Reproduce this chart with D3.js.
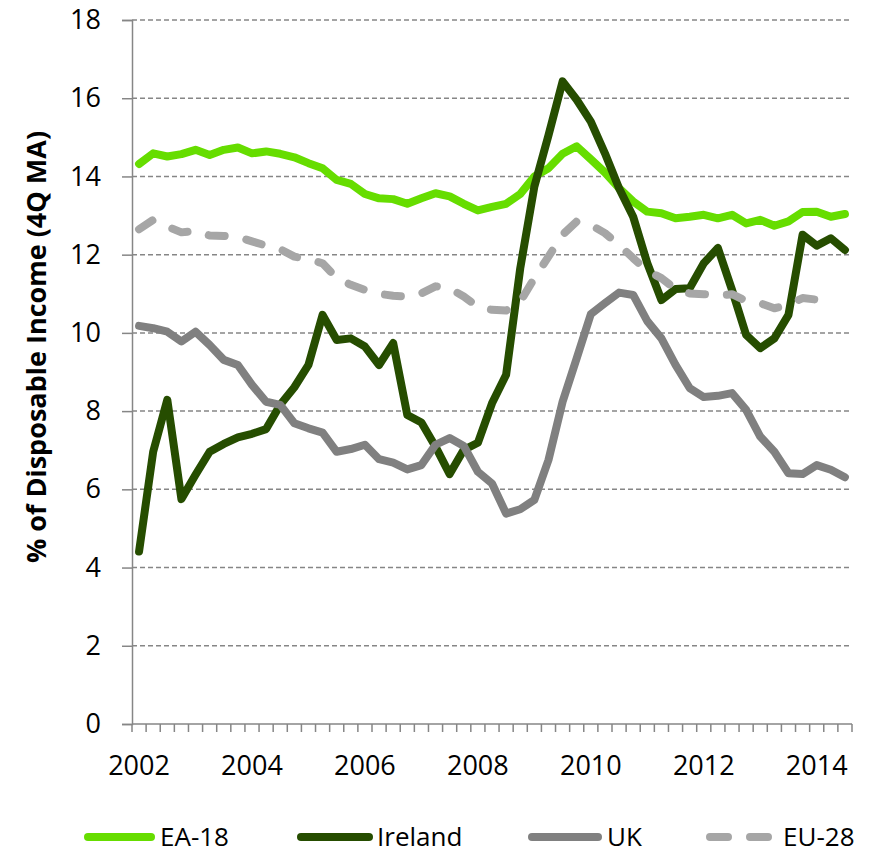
<!DOCTYPE html>
<html>
<head>
<meta charset="utf-8">
<script src="https://cdn.jsdelivr.net/npm/d3@7"></script>
<style>
  body { margin: 0; background: #fff; }
  svg { display: block; font-family: "Open Sans", sans-serif; }
</style>
</head>
<body>
<svg id="chart" width="877" height="853"></svg>
<script>
// quarterly, 2002Q1 .. 2014Q3
const years = d3.range(2002, 2015);
const quarters = [];
years.forEach(y => [1, 2, 3, 4].forEach(q => { if (y < 2014 || q <= 3) quarters.push(y + "Q" + q); }));

const yTicks = [0, 2, 4, 6, 8, 10, 12, 14, 16, 18];
const xLabels = ["2002", "2004", "2006", "2008", "2010", "2012", "2014"];

const ea18 = [14.32, 14.59, 14.51, 14.57, 14.68, 14.55, 14.68, 14.74, 14.59, 14.64,
  14.58, 14.49, 14.34, 14.21, 13.91, 13.81, 13.55, 13.44, 13.42, 13.30,
  13.44, 13.57, 13.49, 13.30, 13.13, 13.22, 13.30, 13.55, 14.00, 14.21,
  14.58, 14.77, 14.44, 14.10, 13.70, 13.36, 13.10, 13.06, 12.93, 12.97,
  13.02, 12.93, 13.02, 12.80, 12.89, 12.74, 12.85, 13.09, 13.10, 12.97, 13.04];

const ireland = [4.41, 6.96, 8.29, 5.75, 6.37, 6.96, 7.16, 7.33, 7.42, 7.54,
  8.16, 8.61, 9.18, 10.46, 9.82, 9.86, 9.65, 9.18, 9.74, 7.90,
  7.71, 7.09, 6.39, 7.01, 7.19, 8.20, 8.93, 11.65, 13.74, 15.05,
  16.43, 15.96, 15.40, 14.59, 13.70, 12.97, 11.78, 10.84, 11.12, 11.14,
  11.78, 12.17, 11.10, 9.95, 9.61, 9.86, 10.46, 12.51, 12.23, 12.42, 12.12];

const uk = [10.18, 10.12, 10.03, 9.78, 10.03, 9.69, 9.31, 9.18, 8.67, 8.24,
  8.16, 7.69, 7.56, 7.45, 6.96, 7.03, 7.14, 6.77, 6.68, 6.51,
  6.62, 7.14, 7.31, 7.11, 6.45, 6.15, 5.38, 5.49, 5.73, 6.75,
  8.24, 9.35, 10.48, 10.76, 11.03, 10.97, 10.30, 9.86, 9.18, 8.59,
  8.36, 8.39, 8.46, 8.03, 7.35, 6.96, 6.41, 6.39, 6.62, 6.50, 6.31];

const eu28 = [12.65, 12.89, 12.72, 12.57, 12.61, 12.49, 12.48, 12.45, 12.34, 12.23,
  12.14, 11.95, 11.88, 11.78, 11.40, 11.23, 11.10, 11.00, 10.95, 10.93,
  11.01, 11.19, 11.14, 10.93, 10.67, 10.59, 10.57, 10.80, 11.40, 11.95,
  12.51, 12.85, 12.76, 12.55, 12.25, 11.91, 11.59, 11.40, 11.12, 11.01,
  10.99, 10.95, 10.99, 10.82, 10.76, 10.63, 10.72, 10.89, 10.85, 10.67];

const series = [
  { name: "EA-18", values: ea18, color: "#66dd00", dash: null },
  { name: "Ireland", values: ireland, color: "#264d00", dash: null },
  { name: "UK", values: uk, color: "#808080", dash: null },
  { name: "EU-28", values: eu28, color: "#a6a6a6", dash: "16,22" }
];

const svg = d3.select("#chart");
const plotLeft = 132, plotRight = 852, plotTop = 20, plotBottom = 724;

const x = d3.scaleBand().domain(quarters).range([plotLeft, plotRight]);
const y = d3.scaleLinear().domain([0, 18]).range([plotBottom, plotTop]);
const cx = q => x(q) + x.bandwidth() / 2;

// horizontal gridlines
svg.append("g")
  .selectAll("line")
  .data(yTicks.filter(t => t > 0))
  .join("line")
  .attr("x1", plotLeft).attr("x2", plotRight)
  .attr("y1", d => y(d)).attr("y2", d => y(d))
  .attr("stroke", "#868686")
  .attr("stroke-width", 1.5)
  .attr("stroke-dasharray", "5,3");

// y axis
const yAxis = svg.append("g")
  .attr("transform", `translate(${plotLeft},0)`)
  .call(d3.axisLeft(y).tickValues(yTicks).tickSize(10).tickPadding(8));
yAxis.select(".domain").attr("stroke", "#868686").attr("stroke-width", 1.5);
yAxis.selectAll(".tick line").attr("stroke", "#868686").attr("stroke-width", 1.5);
yAxis.selectAll(".tick text")
  .attr("font-family", "Open Sans")
  .attr("font-size", 27)
  .attr("fill", "#000")
  .attr("x", -31);

// x axis: ticks between quarters, labels every second year
const xAxis = svg.append("g").attr("transform", `translate(0,${plotBottom})`);
xAxis.append("line")
  .attr("x1", plotLeft).attr("x2", plotRight)
  .attr("stroke", "#868686").attr("stroke-width", 1.5);
xAxis.selectAll("line.tk")
  .data(d3.range(quarters.length + 1))
  .join("line")
  .attr("class", "tk")
  .attr("x1", i => plotLeft + i * x.step())
  .attr("x2", i => plotLeft + i * x.step())
  .attr("y1", 0).attr("y2", 8)
  .attr("stroke", "#868686").attr("stroke-width", 1.5);
xAxis.selectAll("text")
  .data(xLabels)
  .join("text")
  .attr("x", d => cx(d + "Q1"))
  .attr("y", 51)
  .attr("text-anchor", "middle")
  .attr("font-size", 27)
  .attr("fill", "#000")
  .text(d => d);

// y title
svg.append("text")
  .attr("transform", "translate(46,347) rotate(-90)")
  .attr("text-anchor", "middle")
  .attr("font-size", 27)
  .attr("font-weight", "bold")
  .attr("fill", "#000")
  .text("% of Disposable Income (4Q MA)");

// lines
const line = d3.line()
  .x((d, i) => cx(quarters[i]))
  .y(d => y(d));

svg.append("g")
  .selectAll("path")
  .data(series)
  .join("path")
  .attr("d", d => line(d.values))
  .attr("fill", "none")
  .attr("stroke", d => d.color)
  .attr("stroke-width", 8)
  .attr("stroke-linejoin", "round")
  .attr("stroke-linecap", "round")
  .attr("stroke-dasharray", d => d.dash);

// legend
const legendPos = [
  { x1: 84, x2: 155, tx: 160 },
  { x1: 297, x2: 373, tx: 377 },
  { x1: 528, x2: 602, tx: 607 },
  { x1: 706, x2: 776, tx: 783 }
];
const legend = svg.append("g");
series.forEach((s, i) => {
  const p = legendPos[i];
  legend.append("line")
    .attr("x1", p.x1 + 4).attr("x2", p.x2 - 4)
    .attr("y1", 837).attr("y2", 837)
    .attr("stroke", s.color)
    .attr("stroke-width", 8)
    .attr("stroke-linecap", "round")
    .attr("stroke-dasharray", s.dash ? "18,22" : null);
  legend.append("text")
    .attr("x", p.tx)
    .attr("y", 846)
    .attr("font-size", 26)
    .attr("fill", "#000")
    .text(s.name);
});
</script>
</body>
</html>
